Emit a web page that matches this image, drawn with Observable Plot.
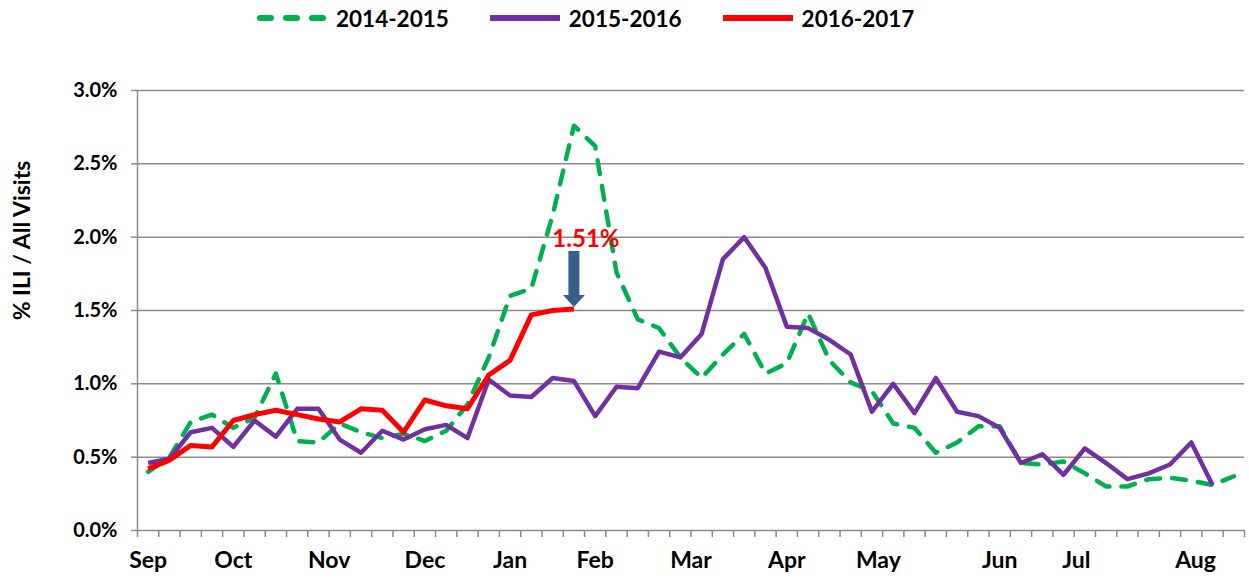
<!DOCTYPE html>
<html><head><meta charset="utf-8">
<script src="https://cdn.jsdelivr.net/npm/d3@7"></script>
<script src="https://cdn.jsdelivr.net/npm/@observablehq/plot@0.6"></script>
<style>
body{margin:0;background:#fff;font-family:Lato,"Open Sans",sans-serif;font-weight:bold;}
#wrap{position:relative;width:1249px;height:582px;overflow:hidden;}
#legend{position:absolute;left:257px;top:5px;height:26px;display:flex;align-items:center;font-size:22.5px;color:#000;}
.item{display:flex;align-items:center;margin-right:41px;}
.item svg{margin-right:9px;}
#chart{position:absolute;left:0;top:0;}
[aria-label="x-axis tick"],[aria-label="y-axis tick"],[aria-label="x-axis"] .tick line,[aria-label="y-axis"] .tick line{stroke:#8a8a8a;stroke-width:1.5px;}
</style></head><body>
<div id="wrap"><div id="chart"></div><div id="legend"></div></div>
<script>
// ---- data ----
const seasons = ["2014-2015", "2015-2016", "2016-2017"];
const seasonColors = ["#00b050", "#7030a0", "#ff0000"];
const season1415 = [0.40, 0.50, 0.74, 0.79, 0.70, 0.77, 1.07, 0.61, 0.60, 0.73,
  0.67, 0.63, 0.66, 0.61, 0.68, 0.86, 1.18, 1.60, 1.65, 2.15,
  2.76, 2.62, 1.76, 1.44, 1.38, 1.18, 1.04, 1.20, 1.34, 1.07,
  1.14, 1.48, 1.16, 1.01, 0.95, 0.73, 0.70, 0.53, 0.60, 0.71,
  0.71, 0.46, 0.45, 0.47, 0.39, 0.30, 0.30, 0.35, 0.36, 0.34,
  0.31, 0.37];
const season1516 = [0.46, 0.49, 0.67, 0.70, 0.57, 0.75, 0.64, 0.83, 0.83, 0.62,
  0.53, 0.68, 0.62, 0.69, 0.72, 0.63, 1.03, 0.92, 0.91, 1.04,
  1.02, 0.78, 0.98, 0.97, 1.22, 1.18, 1.34, 1.85, 2.00, 1.79,
  1.39, 1.38, 1.30, 1.20, 0.81, 1.00, 0.80, 1.04, 0.81, 0.78,
  0.70, 0.46, 0.52, 0.38, 0.56, 0.46, 0.35, 0.39, 0.45, 0.60,
  0.31];
const season1617 = [0.42, 0.48, 0.58, 0.57, 0.75, 0.79, 0.82, 0.79, 0.76, 0.74,
  0.83, 0.82, 0.67, 0.89, 0.85, 0.83, 1.06, 1.16, 1.47, 1.50,
  1.51];
const weekCount = 52;
const monthLabels = ["Sep", "Oct", "Nov", "Dec", "Jan", "Feb", "Mar", "Apr", "May", "Jun", "Jul", "Aug"];
const monthWeeks = [0, 4, 8.5, 13, 17, 21, 25.5, 30, 34.3, 40, 43.6, 49.2];
const yTicks = [0, 0.5, 1.0, 1.5, 2.0, 2.5, 3.0];
const yTitle = "% ILI / All Visits";
const annotation = {week: 20, value: 1.51, label: "1.51%"};

// ---- build table ----
const seriesValues = [season1415, season1516, season1617];
const rows = [];
seriesValues.forEach((vals, s) => vals.forEach((v, i) => rows.push({season: seasons[s], week: i, value: v})));

const arrowSymbol = {
  draw(ctx) {
    ctx.moveTo(-5.5, -58); ctx.lineTo(5.5, -58); ctx.lineTo(5.5, -14);
    ctx.lineTo(11, -14); ctx.lineTo(0, -2); ctx.lineTo(-11, -14);
    ctx.lineTo(-5.5, -14); ctx.closePath();
  }
};

const lineMark = (s) => Plot.line(rows.filter(d => d.season === seasons[s]), {
  x: d => d.week + 0.5, y: "value",
  stroke: seasonColors[s], strokeWidth: s === 2 ? 5 : 4.5,
  strokeLinejoin: "round", strokeLinecap: s === 0 ? "round" : "butt",
  strokeDasharray: s === 0 ? "14,12" : null
});

const chart = Plot.plot({
  width: 1249, height: 582,
  marginTop: 90, marginBottom: 52, marginLeft: 137, marginRight: 5,
  style: {fontFamily: "Lato, 'Open Sans', sans-serif", fontWeight: "bold", fontSize: "20px", color: "#000", background: "#fff", overflow: "visible"},
  x: {domain: [0, weekCount], ticks: d3.range(weekCount + 1), tickFormat: () => "", tickSize: 7, label: null},
  y: {domain: [0, 3], ticks: yTicks, tickFormat: d => d.toFixed(1) + "%", tickSize: 6, tickPadding: 14, label: null},
  marks: [
    Plot.ruleY(yTicks.filter(d => d > 0), {stroke: "#8a8a8a", strokeWidth: 1.5}),
    Plot.ruleX([0], {stroke: "#8a8a8a", strokeWidth: 1.5}),
    Plot.ruleY([0], {stroke: "#8a8a8a", strokeWidth: 1.5}),
    lineMark(0), lineMark(1), lineMark(2),
    Plot.text(monthLabels, {x: (d, i) => monthWeeks[i] + 0.5, text: d => d, frameAnchor: "bottom", dy: 37, fontSize: 23}),
    Plot.text([yTitle], {text: d => d, frameAnchor: "left", textAnchor: "middle", rotate: -90, dx: -115, dy: -70, fontSize: 23}),
    Plot.dot([annotation], {x: d => d.week + 0.5, y: "value", symbol: arrowSymbol, fill: "#3a5e8c", stroke: "none"}),
    Plot.text([annotation], {x: d => d.week + 0.5, y: "value", text: "label", dx: 12, dy: -70, fill: "#ff0000", fontSize: 24})
  ]
});
document.getElementById("chart").appendChild(chart);

// ---- legend ----
const legend = document.getElementById("legend");
seasons.forEach((s, k) => {
  const item = document.createElement("div");
  item.className = "item";
  const dash = k === 0 ? ' stroke-dasharray="11,15"' : "";
  const cap = k === 0 ? "round" : "butt";
  item.innerHTML = `<svg width="70" height="12"><line x1="${k === 0 ? 3 : 0}" x2="${k === 0 ? 67 : 70}" y1="6" y2="6" stroke="${seasonColors[k]}" stroke-width="6" stroke-linecap="${cap}"${dash}/></svg><span>${s}</span>`;
  legend.appendChild(item);
});
</script>
</body></html>
